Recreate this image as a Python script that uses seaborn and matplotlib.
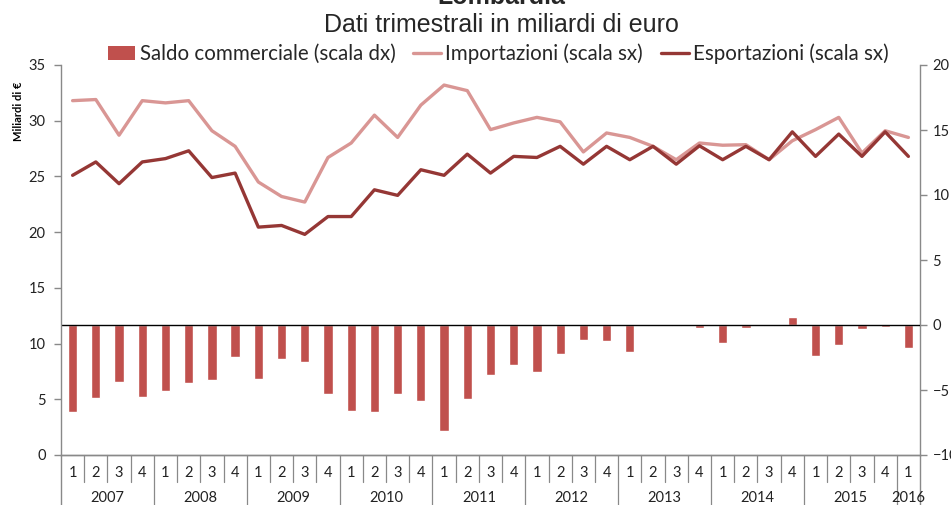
import numpy as np
import pandas as pd
import matplotlib
matplotlib.use("Agg")
import matplotlib.pyplot as plt
from matplotlib.patches import Patch
from matplotlib.lines import Line2D
import seaborn as sns

# ---- data ----
years = ["2007", "2008", "2009", "2010", "2011", "2012", "2013", "2014", "2015", "2016"]
quarters = ["1", "2", "3", "4"] * 9 + ["1"]
year_of_q = [y for y in years[:-1] for _ in range(4)] + ["2016"]

importazioni = [31.8, 31.9, 28.7, 31.8, 31.6, 31.8, 29.1, 27.7, 24.5, 23.2, 22.7, 26.7,
                28.0, 30.5, 28.5, 31.4, 33.2, 32.7, 29.2, 29.8, 30.3, 29.9, 27.2, 28.9,
                28.5, 27.7, 26.5, 28.0, 27.8, 27.85, 26.5, 28.2, 29.2, 30.3, 27.1, 29.1, 28.5]
esportazioni = [25.1, 26.3, 24.35, 26.3, 26.6, 27.3, 24.9, 25.3, 20.45, 20.6, 19.8, 21.4,
                21.4, 23.8, 23.3, 25.6, 25.1, 27.0, 25.3, 26.8, 26.7, 27.7, 26.1, 27.7,
                26.5, 27.7, 26.1, 27.75, 26.5, 27.7, 26.5, 29.0, 26.8, 28.8, 26.8, 29.0, 26.8]
saldo = [-6.7, -5.65, -4.35, -5.55, -5.05, -4.45, -4.2, -2.45, -4.15, -2.65, -2.85, -5.3,
         -6.6, -6.7, -5.3, -5.85, -8.15, -5.7, -3.85, -3.05, -3.65, -2.2, -1.15, -1.2,
         -2.05, -0.05, -0.05, -0.22, -1.35, -0.2, -0.07, 0.65, -2.4, -1.5, -0.33, -0.15, -1.75]

df = pd.DataFrame({"pos": np.arange(len(quarters)), "imp": importazioni,
                   "esp": esportazioni, "saldo": saldo})

C_BAR = "#C0504D"
C_IMP = "#D99694"
C_EXP = "#953735"
C_AX = "#898989"

sns.set_theme(style="white")
plt.rcParams["font.family"] = ["Lato", "DejaVu Sans"]

W, H = 951, 505
fig = plt.figure(figsize=(W / 100, H / 100), dpi=100)
ax = fig.add_axes([61 / W, 1 - 455 / H, (920 - 61) / W, 390 / H])
ax2 = ax.twinx()
ax.set_zorder(ax2.get_zorder() + 1)
ax.patch.set_visible(False)

sns.barplot(data=df, x="pos", y="saldo", ax=ax2, color=C_BAR, width=0.4,
            native_scale=True, saturation=1, errorbar=None)
sns.lineplot(data=df, x="pos", y="imp", ax=ax, color=C_IMP, lw=2.4)
sns.lineplot(data=df, x="pos", y="esp", ax=ax, color=C_EXP, lw=2.4)
ax2.axhline(0, color="black", lw=1.0, zorder=5)

n = len(quarters)
ax.set_xlim(-0.5, n - 0.5)
ax.set_ylim(0, 35)
ax2.set_ylim(-10, 20)
ax.set_yticks(range(0, 36, 5))
ax2.set_yticks(range(-10, 21, 5))
ax.set_xticks([])
ax2.set_xticks([])
ax.set_xlabel("")
ax.set_ylabel("")
ax2.set_ylabel("")

for a in (ax, ax2):
    for s in a.spines.values():
        s.set_color(C_AX)
        s.set_linewidth(1.0)
    a.spines["top"].set_visible(False)
ax.spines["right"].set_visible(False)
ax2.spines["left"].set_visible(False)
ax.tick_params(axis="y", direction="out", length=5, width=1, color=C_AX,
               labelsize=10.5, pad=6, labelcolor="#222222")
ax2.tick_params(axis="y", direction="out", length=5, width=1, color=C_AX,
                labelsize=10.5, pad=4, labelcolor="#222222")

# two-level category axis
tr = ax.get_xaxis_transform()
for i, q in enumerate(quarters):
    ax.text(i, -0.045, q, transform=tr, ha="center", va="center", fontsize=10.5,
            color="#222222")
for i in range(1, n):
    is_year = year_of_q[i] != year_of_q[i - 1]
    ax.plot([i - 0.5, i - 0.5], [0, -0.14 if is_year else -0.069], transform=tr,
            color=C_AX, lw=0.9, clip_on=False)
for x in (-0.5, n - 0.5):
    ax.plot([x, x], [0, -0.14], transform=tr, color=C_AX, lw=1.0, clip_on=False)
for y in years:
    idx = [i for i, yy in enumerate(year_of_q) if yy == y]
    ax.text(np.mean(idx), -0.11, y, transform=tr, ha="center", va="center",
            fontsize=10.5, color="#222222")

fig.text(19 / W, 1 - 111 / H, "Miliardi di €", rotation=90, ha="center", va="center",
         fontsize=8, fontweight="bold", color="#000000")

fig.text(501 / W, 1 - 4 / H, "Lombardia", ha="center", va="baseline", fontsize=18,
         fontweight="bold", family=["Liberation Sans", "DejaVu Sans"])
fig.text(501 / W, 1 - 31.5 / H, "Dati trimestrali in miliardi di euro", ha="center",
         va="baseline", fontsize=18, family=["Liberation Sans", "DejaVu Sans"])

handles = [Patch(facecolor=C_BAR, edgecolor="none"),
           Line2D([], [], color=C_IMP, lw=2.4),
           Line2D([], [], color=C_EXP, lw=2.4)]
labels = ["Saldo commerciale (scala dx)", "Importazioni (scala sx)",
          "Esportazioni (scala sx)"]
fig.legend(handles, labels, loc="center", bbox_to_anchor=(498 / W, 1 - 54 / H), ncol=3,
           frameon=False, fontsize=14.8, handlelength=1.36, handleheight=0.63,
           handletextpad=0.2, columnspacing=0.87, borderpad=0)

fig.savefig("out.png", dpi=100)
